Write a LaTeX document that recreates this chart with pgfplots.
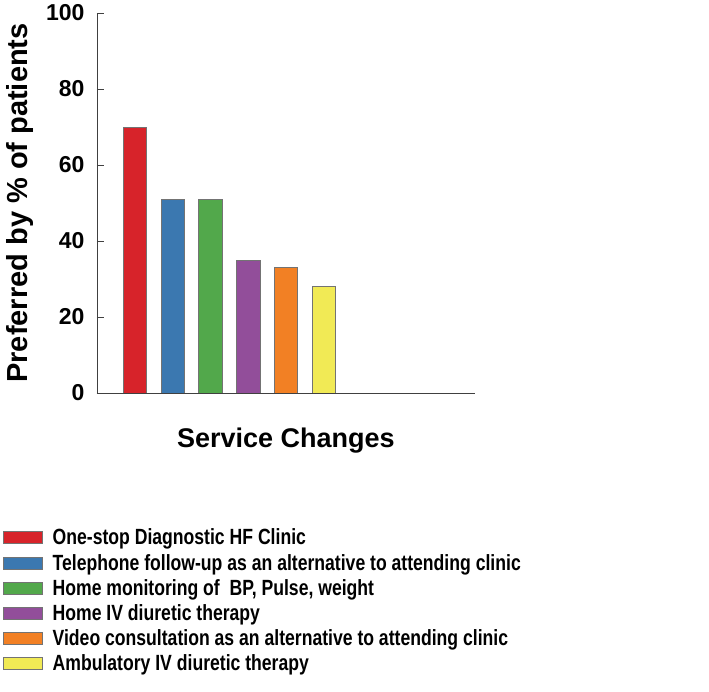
\documentclass[border=0pt]{standalone}
\usepackage{fontspec}
\setmainfont{Liberation Sans}
\newfontfamily\narrowfont[FakeStretch=0.8]{Liberation Sans}
\usepackage{pgfplots}
\pgfplotsset{compat=1.18}
\definecolor{cRed}{HTML}{D7232A}
\definecolor{cBlue}{HTML}{3B78B0}
\definecolor{cGreen}{HTML}{52A84B}
\definecolor{cPurple}{HTML}{924E9A}
\definecolor{cOrange}{HTML}{F28024}
\definecolor{cYellow}{HTML}{F1EA55}
\pgfplotsset{
  bb/.style={ybar, bar shift=0pt, bar width=0.62, fill=#1, draw=black!55, line width=0.6pt,
    legend image code/.code={\draw[fill=#1, draw=black!55, line width=0.6pt] (0pt,-6pt) rectangle (39pt,6pt);}},
}
\begin{document}
\begin{tikzpicture}[x=1pt,y=1pt]
\begin{axis}[name=ax, at={(0,0)}, anchor=south west,
  width=378pt, height=380pt, scale only axis,
  xmin=0, xmax=10, ymin=0, ymax=100,
  axis lines*=left,
  axis line style={draw=black!75, line width=0.8pt},
  xtick=\empty, ytick={0,20,...,100},
  tick align=inside, major tick length=7pt,
  tick style={draw=black!75, line width=0.8pt},
  /pgf/number format/assume math mode=true,
  yticklabel style={font=\fontsize{23}{27}\selectfont\bfseries, xshift=-9pt},
  ylabel={Preferred by \% of patients},
  ylabel style={font=\fontsize{29}{33}\selectfont\bfseries, yshift=6pt},
  xlabel={Service Changes},
  xlabel style={font=\fontsize{27}{31}\selectfont\bfseries, yshift=-31pt},
  legend style={at={(rel axis cs:-0.249,-0.352)}, anchor=north west, draw=none, fill=none,
    inner sep=0pt, row sep=3.7pt,
    /tikz/every odd column/.append style={column sep=8pt},
    font=\narrowfont\fontsize{22}{26}\selectfont\bfseries},
  legend cell align=left,
]
\addplot[bb=cRed] coordinates {(1,70)};
\addlegendentry{One-stop Diagnostic HF Clinic}
\addplot[bb=cBlue] coordinates {(2,51)};
\addlegendentry{Telephone follow-up as an alternative to attending clinic}
\addplot[bb=cGreen] coordinates {(3,51)};
\addlegendentry{Home monitoring of\ \ BP, Pulse, weight}
\addplot[bb=cPurple] coordinates {(4,35)};
\addlegendentry{Home IV diuretic therapy}
\addplot[bb=cOrange] coordinates {(5,33)};
\addlegendentry{Video consultation as an alternative to attending clinic}
\addplot[bb=cYellow] coordinates {(6,28)};
\addlegendentry{Ambulatory IV diuretic therapy}
\end{axis}
\path ([shift={(-97pt,-299pt)}]ax.south west) rectangle ++(709pt,692pt);
\end{tikzpicture}
\end{document}
